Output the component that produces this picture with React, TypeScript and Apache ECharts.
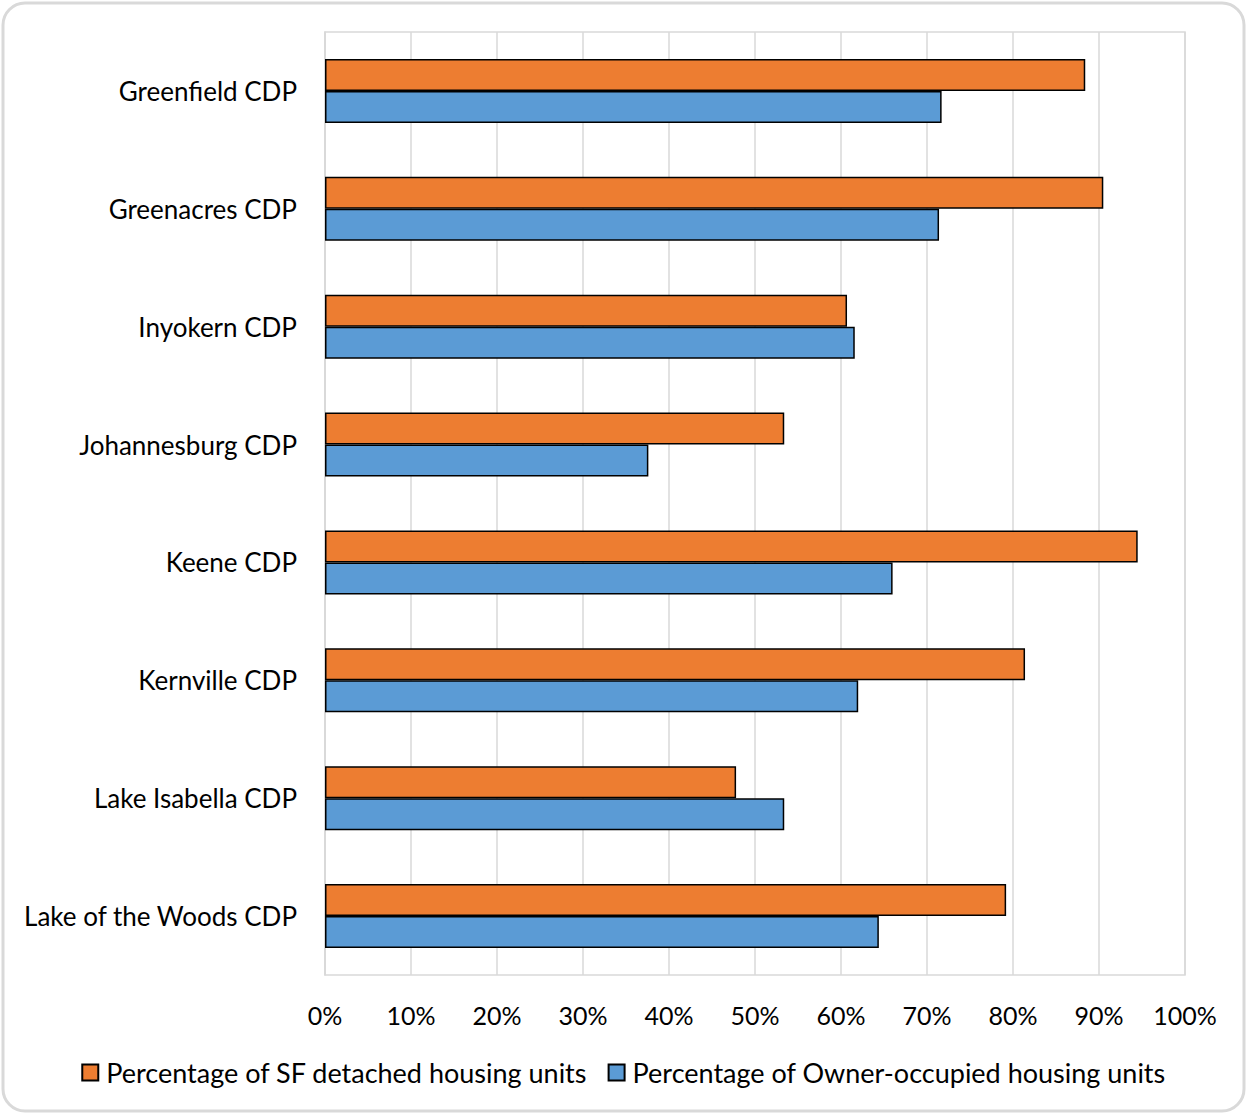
import React, { useEffect, useRef } from "react";
import * as echarts from "echarts";

const categories = [
  "Greenfield CDP",
  "Greenacres CDP",
  "Inyokern CDP",
  "Johannesburg CDP",
  "Keene CDP",
  "Kernville CDP",
  "Lake Isabella CDP",
  "Lake of the Woods CDP",
];
const sfDetached = [88.4, 90.5, 60.7, 53.4, 94.5, 81.4, 47.8, 79.2];
const ownerOccupied = [71.7, 71.4, 61.6, 37.6, 66.0, 62.0, 53.4, 64.4];
const seriesNames = [
  "Percentage of SF detached housing units",
  "Percentage of Owner-occupied housing units",
];

const FONT = "Lato";

export default function App() {
  const ref = useRef<HTMLDivElement>(null);
  useEffect(() => {
    document.body.style.margin = "0";
    const chart = echarts.init(ref.current!, undefined, { renderer: "svg" });
    chart.setOption({
      animation: false,
      textStyle: { fontFamily: FONT },
      graphic: [
        {
          type: "rect",
          shape: { x: 3, y: 3, width: 1241, height: 1108, r: 22 },
          style: { fill: "#fff", stroke: "#d9d9d9", lineWidth: 3 },
          z: -10,
        },
      ],
      grid: {
        left: 325,
        top: 32,
        width: 860,
        height: 943,
        show: true,
        borderColor: "#d9d9d9",
        borderWidth: 1.5,
      },
      legend: {
        bottom: 23,
        left: "center",
        itemWidth: 16,
        itemHeight: 16,
        itemGap: 20,
        icon: "rect",
        textStyle: { fontFamily: FONT, fontSize: 27, color: "#000", padding: [0, 0, 0, 3] },
        data: seriesNames,
      },
      xAxis: {
        type: "value",
        min: 0,
        max: 100,
        interval: 10,
        axisLabel: {
          formatter: "{value}%",
          fontFamily: FONT,
          fontSize: 25,
          color: "#000",
          margin: 27,
        },
        axisLine: { show: false },
        axisTick: { show: false },
        splitLine: { show: true, lineStyle: { color: "#d9d9d9", width: 1.5 } },
      },
      yAxis: {
        type: "category",
        data: categories,
        inverse: true,
        axisLabel: { fontFamily: FONT, fontSize: 26, color: "#000", margin: 28 },
        axisLine: { show: true, lineStyle: { color: "#d9d9d9", width: 1.5 } },
        axisTick: { show: false },
      },
      series: [
        {
          name: seriesNames[0],
          type: "bar",
          data: sfDetached,
          barWidth: 32,
          barGap: "0%",
          itemStyle: { color: "#ed7d31", borderColor: "#000", borderWidth: 1.5 },
        },
        {
          name: seriesNames[1],
          type: "bar",
          data: ownerOccupied,
          barWidth: 32,
          barGap: "0%",
          itemStyle: { color: "#5b9bd5", borderColor: "#000", borderWidth: 1.5 },
        },
      ],
    });
    return () => chart.dispose();
  }, []);
  return <div ref={ref} style={{ width: 1247, height: 1114 }} />;
}
